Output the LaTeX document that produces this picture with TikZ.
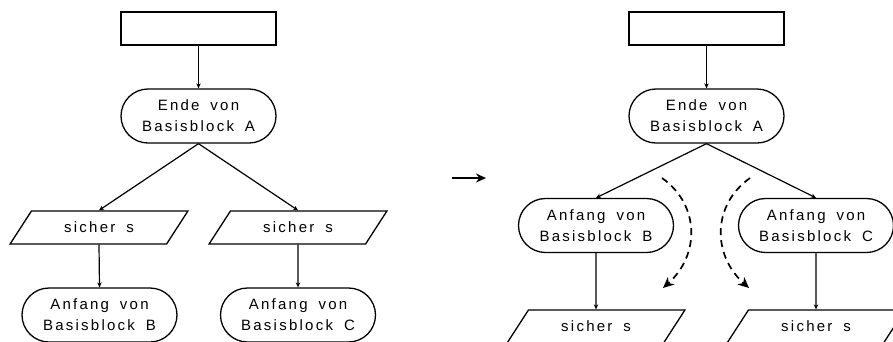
\documentclass[tikz,border=0pt]{standalone}
\usepackage{fontspec}
\setmainfont{Liberation Sans}[LetterSpace=15,WordSpace=1.7]
\usetikzlibrary{arrows.meta,shapes.geometric}
\begin{document}
\begin{tikzpicture}[x=1pt,y=-1pt,
  every node/.style={font=\fontsize{15}{21}\selectfont, align=center, inner sep=0pt},
  box/.style={draw, line width=1.3pt, minimum width=155pt, minimum height=33pt},
  term/.style={draw, line width=1.3pt, rounded corners=27pt, minimum width=155pt, minimum height=54pt},
  para/.style={draw, line width=1.3pt, trapezium, trapezium left angle=45, trapezium right angle=135,
    trapezium stretches=true, minimum width=178pt, minimum height=33pt},
  flow/.style={line width=1.2pt, -{Stealth[length=5pt,width=4.5pt]}},
  jump/.style={line width=1.7pt, dash pattern=on 7pt off 5pt, -{Stealth[length=11pt,width=10pt]}},
  switch/.style={line width=2.4pt, -{Stealth[length=10pt,width=9pt]}}]
\useasboundingbox (0,0) rectangle (893,341);

% ---- flow graph before the transformation ----
\node[box]  (topL) at (198.5,28.5) {};
\node[term] (endA) at (198.5,116) {Ende von\\Basisblock A};
\node[para] (sL)   at (99,227.5) {sicher s};
\node[para] (sR)   at (298,227.5) {sicher s};
\node[term] (begB) at (99.5,315) {Anfang von\\Basisblock B};
\node[term] (begC) at (298,315) {Anfang von\\Basisblock C};

\draw[flow] (topL.south) -- (endA.north);
\draw[flow] (endA.south) -- (sL.north);
\draw[flow] (endA.south) -- (sR.north);
\draw[flow] (sL.south) -- (begB.north);
\draw[flow] (sR.south) -- (begC.north);

% ---- transformation arrow ----
\coordinate (arrS) at (452,178);
\coordinate (arrE) at (486,178);
\draw[switch] (arrS) -- (arrE);

% ---- flow graph after the transformation ----
\node[box]  (topR)  at (706.5,28.5) {};
\node[term] (endA2) at (706.5,116) {Ende von\\Basisblock A};
\node[term] (begB2) at (596,225.5) {Anfang von\\Basisblock B};
\node[term] (begC2) at (816,225.5) {Anfang von\\Basisblock C};
\node[para] (sB2)   at (596,326.5) {sicher s};
\node[para] (sC2)   at (816,326.5) {sicher s};

\draw[flow] (topR.south) -- (endA2.north);
\draw[flow] (endA2.south) -- (begB2.north);
\draw[flow] (endA2.south) -- (begC2.north);
\draw[flow] (begB2.south) -- (sB2.north);
\draw[flow] (begC2.south) -- (sC2.north);

% moved check, shown as dashed motion arrows
\coordinate (mLs) at (662,178);
\coordinate (mLe) at (663,288);
\coordinate (mRs) at (750,178);
\coordinate (mRe) at (749,288);
\draw[jump] (mLs) .. controls (700,205) and (700,255) .. (mLe);
\draw[jump] (mRs) .. controls (712,205) and (712,255) .. (mRe);
\end{tikzpicture}
\end{document}
